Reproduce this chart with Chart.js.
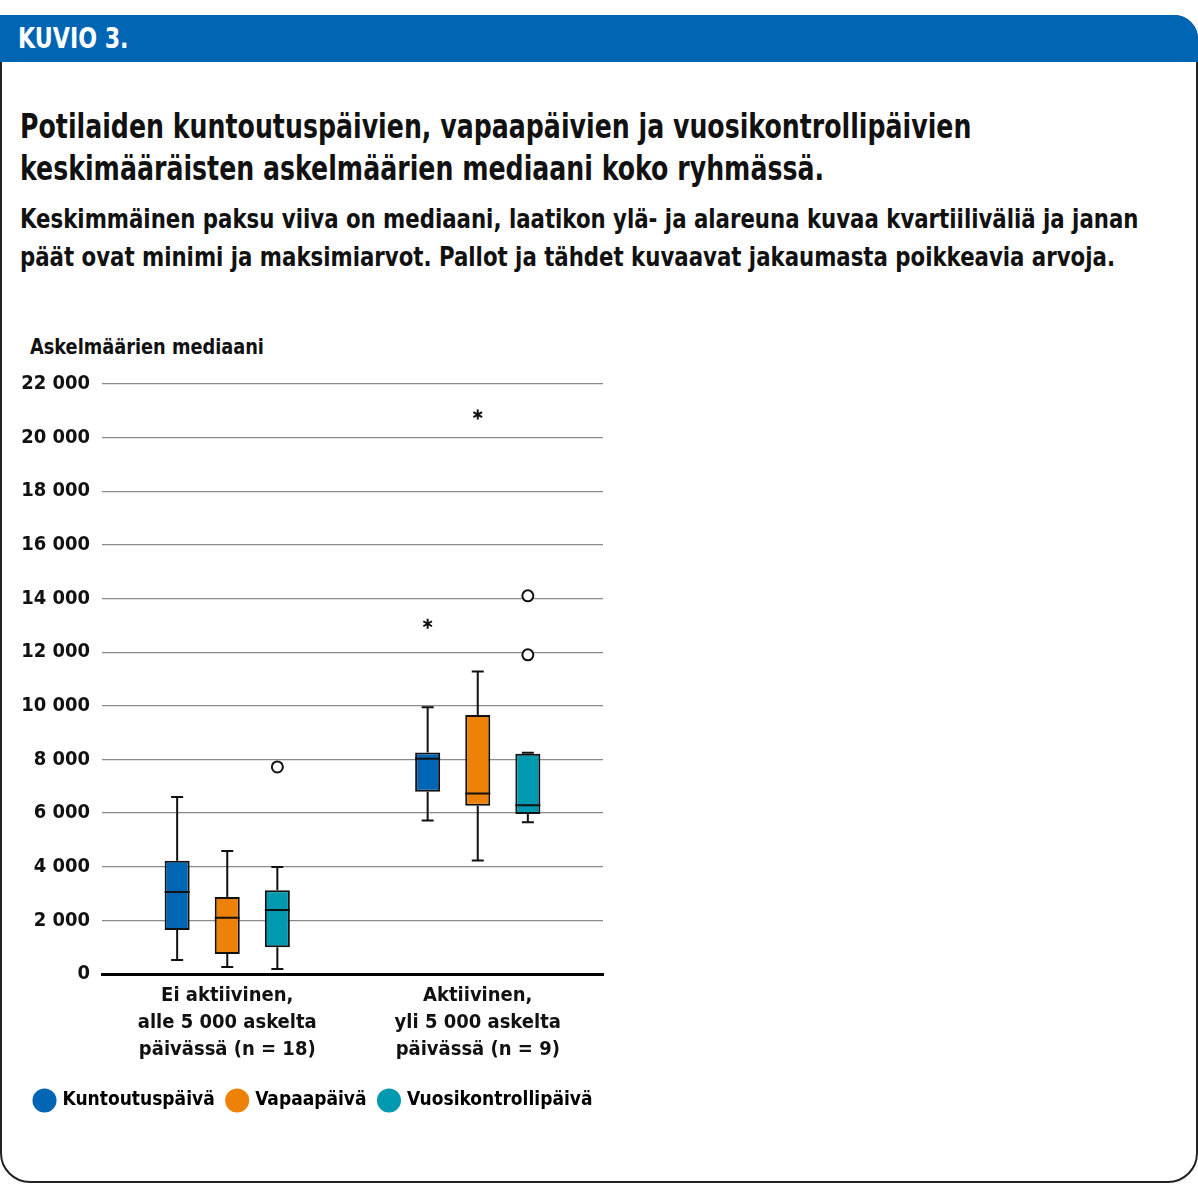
<!DOCTYPE html>
<html>
<head>
<meta charset="utf-8">
<script src="https://cdn.jsdelivr.net/npm/chart.js@4.4.1/dist/chart.umd.min.js"></script>
<style>
  html, body { margin: 0; padding: 0; background: #fff; }
  body { width: 1198px; height: 1185px; position: relative; overflow: hidden;
         font-family: 'DejaVu Sans Condensed', 'Roboto', sans-serif; }
  .frame { position: absolute; left: 0; top: 15px; width: 1194px; height: 1164px;
           border: 2px solid #222; border-radius: 0 24px 30px 30px; }
  .header { position: absolute; left: 0; top: 15px; width: 1198px; height: 47px;
            background: #0066b3; border-radius: 0 24px 0 0; }
  .header span { position: absolute; left: 18px; top: 7px; color: #fff; font-weight: bold; font-size: 28px;
                 transform: scaleX(0.88); transform-origin: 0 0; white-space: nowrap; }
  .title { position: absolute; left: 20px; top: 106px; font-size: 33px; font-weight: bold; line-height: 42px; color: #111;
           transform: scaleX(0.85); transform-origin: 0 0; white-space: nowrap; }
  .sub { position: absolute; left: 20px; top: 200px; font-size: 26px; font-weight: bold; line-height: 38px; color: #111;
         transform: scaleX(0.91); transform-origin: 0 0; white-space: nowrap; }
  .ytitle { position: absolute; left: 30px; top: 335px; font-size: 21px; font-weight: bold; color: #111;
            transform: scaleX(0.94); transform-origin: 0 0; white-space: nowrap; }
  .chartbox { position: absolute; left: 4px; top: 360px; width: 660px; height: 760px; }
</style>
</head>
<body>
<div class="frame"></div>
<div class="header"><span>KUVIO 3.</span></div>
<div class="title">Potilaiden kuntoutuspäivien, vapaapäivien ja vuosikontrollipäivien<br>keskimääräisten askelmäärien mediaani koko ryhmässä.</div>
<div class="sub">Keskimmäinen paksu viiva on mediaani, laatikon ylä- ja alareuna kuvaa kvartiiliväliä ja janan<br>päät ovat minimi ja maksimiarvot. Pallot ja tähdet kuvaavat jakaumasta poikkeavia arvoja.</div>
<div class="ytitle">Askelmäärien mediaani</div>
<div class="chartbox"><canvas id="chart"></canvas></div>
<script>
// Categories and series
const categories = [
    ['Ei aktiivinen,', 'alle 5 000 askelta', 'päivässä (n = 18)'],
    ['Aktiivinen,', 'yli 5 000 askelta', 'päivässä (n = 9)']
];
const seriesNames = ['Kuntoutuspäivä', 'Vapaapäivä', 'Vuosikontrollipäivä'];
const seriesColors = ['#0066b3', '#ee8208', '#0099b0'];

// Box plot values per series: [Ei aktiivinen, Aktiivinen]
const kuntoutusMin = [520, 5720];
const kuntoutusQ1 = [1640, 6800];
const kuntoutusMedian = [3060, 8030];
const kuntoutusQ3 = [4220, 8260];
const kuntoutusMax = [6600, 9950];
const kuntoutusCircles = [[], []];
const kuntoutusStars = [[], [13060]];

const vapaaMin = [260, 4230];
const vapaaQ1 = [750, 6270];
const vapaaMedian = [2100, 6730];
const vapaaQ3 = [2870, 9660];
const vapaaMax = [4590, 11280];
const vapaaCircles = [[], []];
const vapaaStars = [[], [20860]];

const vuosiMin = [190, 5660];
const vuosiQ1 = [1000, 5970];
const vuosiMedian = [2390, 6290];
const vuosiQ3 = [3120, 8210];
const vuosiMax = [3990, 8250];
const vuosiCircles = [[7720], [11900, 14100]];
const vuosiStars = [[], []];

// Tick labels
const yTicks = [0, 2000, 4000, 6000, 8000, 10000, 12000, 14000, 16000, 18000, 20000, 22000];

const boxes = [
    { min: kuntoutusMin, q1: kuntoutusQ1, median: kuntoutusMedian, q3: kuntoutusQ3, max: kuntoutusMax, circles: kuntoutusCircles, stars: kuntoutusStars },
    { min: vapaaMin, q1: vapaaQ1, median: vapaaMedian, q3: vapaaQ3, max: vapaaMax, circles: vapaaCircles, stars: vapaaStars },
    { min: vuosiMin, q1: vuosiQ1, median: vuosiMedian, q3: vuosiQ3, max: vuosiMax, circles: vuosiCircles, stars: vuosiStars }
];

const fontFamily = "'DejaVu Sans Condensed', 'Roboto', sans-serif";

function formatNumber(v) {
    return String(v).replace(/\B(?=(\d{3})+(?!\d))/g, ' ');
}

/**
 * Draw whiskers, medians and outliers on top of the floating bars
 */
const whiskerPlugin = {
    id: 'whiskers',
    afterDatasetsDraw(chart) {
        const ctx = chart.ctx;
        const y = chart.scales.y;
        ctx.save();
        ctx.strokeStyle = '#111';
        ctx.lineWidth = 2;
        boxes.forEach((b, i) => {
            const meta = chart.getDatasetMeta(i);
            meta.data.forEach((el, j) => {
                const x = el.x;
                const half = el.width / 2;
                const cap = 6;
                ctx.beginPath();
                // upper whisker
                ctx.moveTo(x, y.getPixelForValue(b.q3[j]));
                ctx.lineTo(x, y.getPixelForValue(b.max[j]));
                ctx.moveTo(x - cap, y.getPixelForValue(b.max[j]));
                ctx.lineTo(x + cap, y.getPixelForValue(b.max[j]));
                // lower whisker
                ctx.moveTo(x, y.getPixelForValue(b.q1[j]));
                ctx.lineTo(x, y.getPixelForValue(b.min[j]));
                ctx.moveTo(x - cap, y.getPixelForValue(b.min[j]));
                ctx.lineTo(x + cap, y.getPixelForValue(b.min[j]));
                // median
                ctx.moveTo(x - half, y.getPixelForValue(b.median[j]));
                ctx.lineTo(x + half, y.getPixelForValue(b.median[j]));
                ctx.stroke();

                b.circles[j].forEach(v => {
                    ctx.beginPath();
                    ctx.arc(x, y.getPixelForValue(v), 5.5, 0, Math.PI * 2);
                    ctx.fillStyle = '#fff';
                    ctx.fill();
                    ctx.stroke();
                });
                b.stars[j].forEach(v => {
                    const py = y.getPixelForValue(v);
                    ctx.beginPath();
                    for (let k = 0; k < 3; k++) {
                        const a = Math.PI / 2 + k * Math.PI / 3;
                        ctx.moveTo(x + Math.cos(a) * 5, py - Math.sin(a) * 5);
                        ctx.lineTo(x - Math.cos(a) * 5, py + Math.sin(a) * 5);
                    }
                    ctx.stroke();
                });
            });
        });
        ctx.restore();
    }
};

new Chart(document.getElementById('chart'), {
    type: 'bar',
    data: {
        labels: categories,
        datasets: boxes.map((b, i) => ({
            label: seriesNames[i],
            data: b.q1.map((q, j) => [q, b.q3[j]]),
            backgroundColor: seriesColors[i],
            borderColor: '#111',
            borderWidth: 2,
            borderSkipped: false,
            barPercentage: 0.5,
            categoryPercentage: 0.6
        }))
    },
    options: {
        responsive: true,
        maintainAspectRatio: false,
        animation: false,
        layout: { padding: { left: 18, right: 0, top: 0, bottom: 0 } },
        plugins: {
            title: { display: false },
            legend: {
                position: 'bottom',
                align: 'start',
                labels: {
                    usePointStyle: true,
                    pointStyle: 'circle',
                    boxWidth: 17,
                    boxHeight: 17,
                    padding: 14,
                    color: '#111',
                    font: { family: fontFamily, size: 19, weight: 'bold' },
                    generateLabels(chart) {
                        return seriesNames.map((n, i) => ({
                            text: n,
                            fillStyle: seriesColors[i],
                            strokeStyle: seriesColors[i],
                            lineWidth: 0,
                            pointStyle: 'circle',
                            datasetIndex: i
                        }));
                    }
                }
            },
            tooltip: { enabled: false }
        },
        scales: {
            x: {
                grid: { display: false },
                border: { display: true, color: '#000', width: 3 },
                afterFit(axis) { axis.height += 14; },
                ticks: {
                    color: '#111',
                    font: { family: fontFamily, size: 20, weight: 'bold', lineHeight: 1.35 },
                    padding: 0
                }
            },
            y: {
                min: 0,
                max: 22000,
                afterBuildTicks(axis) {
                    axis.ticks = yTicks.map(v => ({ value: v }));
                },
                afterFit(axis) { axis.width = 80; },
                grid: { color: '#8a8a8a', lineWidth: 1.2, drawTicks: false },
                border: { display: false },
                ticks: {
                    color: '#111',
                    padding: 12,
                    font: { family: fontFamily, size: 20, weight: 'bold' },
                    callback: v => formatNumber(v)
                }
            },
            // empty right-hand axis that only reserves space
            spacer: {
                position: 'right',
                min: 0,
                max: 1,
                afterFit(axis) { axis.width = 61; },
                grid: { display: false },
                border: { display: false },
                ticks: { display: false }
            }
        }
    },
    plugins: [whiskerPlugin]
});
</script>
</body>
</html>
